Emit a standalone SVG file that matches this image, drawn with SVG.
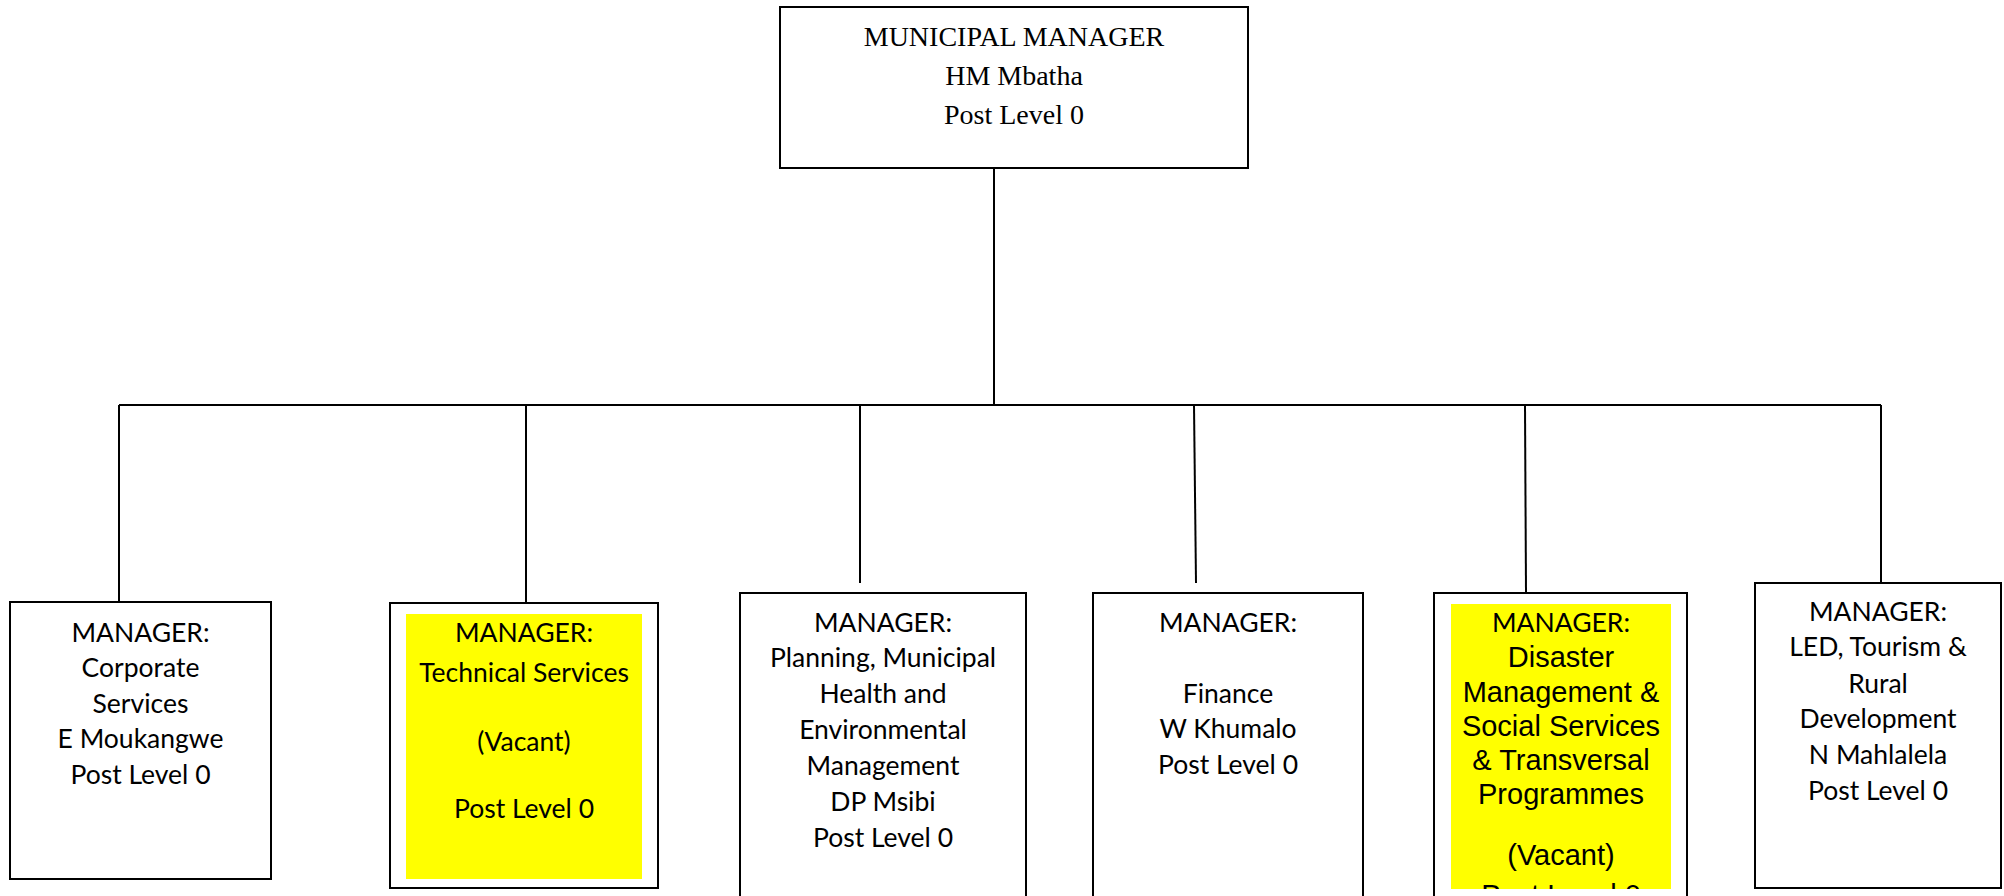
<svg xmlns="http://www.w3.org/2000/svg" width="2004" height="896" viewBox="0 0 2004 896">
  <style>
    .box { fill: #ffffff; stroke: #000000; stroke-width: 2; }
    .hl { fill: #ffff00; stroke: none; }
    .wire { fill: none; stroke: #000000; stroke-width: 2; }
    .serif { font-family: "Liberation Serif", "Times New Roman", serif; font-size: 28px; fill: #000; text-anchor: middle; }
    .cal { font-family: Lato, "Open Sans", sans-serif; font-size: 26.5px; fill: #000; text-anchor: middle; }
    .ari { font-family: "Liberation Sans", Arial, sans-serif; font-size: 29px; fill: #000; text-anchor: middle; }
  </style>
  <defs>
    <clipPath id="clip-dm">
      <rect x="1451" y="604" width="220" height="285"/>
    </clipPath>
  </defs>
  <rect width="2004" height="896" fill="#ffffff"/>

  <!-- reporting lines -->
  <g id="connectors">
    <line class="wire" x1="994" y1="167" x2="994" y2="405"/>
    <line class="wire" x1="119" y1="405" x2="1881" y2="405"/>
    <line class="wire" x1="119" y1="405" x2="119" y2="602"/>
    <line class="wire" x1="526" y1="405" x2="526" y2="603"/>
    <line class="wire" x1="860" y1="405" x2="860" y2="583"/>
    <line class="wire" x1="1194" y1="405" x2="1196" y2="583"/>
    <line class="wire" x1="1525" y1="405" x2="1526" y2="593"/>
    <line class="wire" x1="1881" y1="405" x2="1881" y2="583"/>
  </g>

  <g id="municipal-manager">
    <rect class="box" x="780" y="7" width="468" height="161"/>
    <text class="serif" x="1014" y="46">MUNICIPAL MANAGER</text>
    <text class="serif" x="1014" y="85">HM Mbatha</text>
    <text class="serif" x="1014" y="124">Post Level 0</text>
  </g>

  <g id="corporate-services">
    <rect class="box" x="10" y="602" width="261" height="277"/>
    <text class="cal" x="140.5" y="642">MANAGER:</text>
    <text class="cal" x="140.5" y="677">Corporate</text>
    <text class="cal" x="140.5" y="713">Services</text>
    <text class="cal" x="140.5" y="748">E Moukangwe</text>
    <text class="cal" x="140.5" y="784">Post Level 0</text>
  </g>

  <g id="technical-services">
    <rect class="box" x="390" y="603" width="268" height="285"/>
    <rect class="hl" x="406" y="614" width="236" height="265"/>
    <text class="cal" x="524" y="642">MANAGER:</text>
    <text class="cal" x="524" y="682">Technical Services</text>
    <text class="cal" x="524" y="751">(Vacant)</text>
    <text class="cal" x="524" y="818">Post Level 0</text>
  </g>

  <g id="planning-health-environment">
    <rect class="box" x="740" y="593" width="286" height="320"/>
    <text class="cal" x="883" y="632">MANAGER:</text>
    <text class="cal" x="883" y="667">Planning, Municipal</text>
    <text class="cal" x="883" y="703">Health and</text>
    <text class="cal" x="883" y="739">Environmental</text>
    <text class="cal" x="883" y="775">Management</text>
    <text class="cal" x="883" y="811">DP Msibi</text>
    <text class="cal" x="883" y="847">Post Level 0</text>
  </g>

  <g id="finance">
    <rect class="box" x="1093" y="593" width="270" height="320"/>
    <text class="cal" x="1228" y="632">MANAGER:</text>
    <text class="cal" x="1228" y="703">Finance</text>
    <text class="cal" x="1228" y="738">W Khumalo</text>
    <text class="cal" x="1228" y="774">Post Level 0</text>
  </g>

  <g id="disaster-social-transversal">
    <rect class="box" x="1434" y="593" width="253" height="320"/>
    <rect class="hl" x="1451" y="604" width="220" height="285"/>
    <!-- highlight panel crops the last line of this box -->
    <g clip-path="url(#clip-dm)">
      <text class="cal" x="1561" y="632">MANAGER:</text>
      <text class="ari" x="1561" y="667">Disaster</text>
      <text class="ari" x="1561" y="702">Management &amp;</text>
      <text class="ari" x="1561" y="736">Social Services</text>
      <text class="ari" x="1561" y="770">&amp; Transversal</text>
      <text class="ari" x="1561" y="804">Programmes</text>
      <text class="ari" x="1561" y="865">(Vacant)</text>
      <text class="ari" x="1561" y="905">Post Level 0</text>
    </g>
  </g>

  <g id="led-tourism-rural">
    <rect class="box" x="1755" y="583" width="246" height="305"/>
    <text class="cal" x="1878" y="621">MANAGER:</text>
    <text class="cal" x="1878" y="656">LED, Tourism &amp;</text>
    <text class="cal" x="1878" y="693">Rural</text>
    <text class="cal" x="1878" y="728">Development</text>
    <text class="cal" x="1878" y="764">N Mahlalela</text>
    <text class="cal" x="1878" y="800">Post Level 0</text>
  </g>
</svg>
